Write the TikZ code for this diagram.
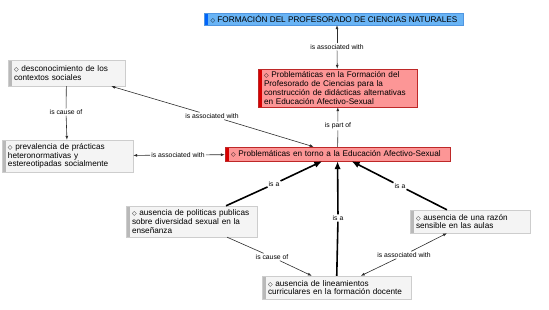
\documentclass[tikz,border=0pt]{standalone}
\usepackage{fontspec}
\setmainfont{Liberation Sans}
\newfontfamily\diafont{DejaVu Sans}
\usetikzlibrary{arrows.meta}
\definecolor{cgrayfill}{RGB}{244,244,244}
\definecolor{cgrayline}{RGB}{205,205,205}
\definecolor{cgraybar}{RGB}{185,185,185}
\definecolor{credfill}{RGB}{252,150,150}
\definecolor{credline}{RGB}{190,40,40}
\definecolor{credbar}{RGB}{215,0,0}
\definecolor{cbluefill}{RGB}{105,180,245}
\definecolor{cblueline}{RGB}{80,150,225}
\definecolor{cbluebar}{RGB}{0,100,250}
\definecolor{linkgray}{RGB}{45,45,45}
\newcommand\cmapdia{{\diafont\fontsize{6}{6}\selectfont ◇}}

\begin{document}
\begin{tikzpicture}[x=1pt,y=-1pt,
  every node/.style={font=\fontsize{8.2}{8.8}\selectfont},
  box/.style={align=left,inner xsep=6pt,inner ysep=2pt,
    path picture={\fill[#1] (path picture bounding box.north west)
      rectangle ([xshift=3.5pt]path picture bounding box.south west);}},
  concept/.style={box=cgraybar,draw=cgrayline,fill=cgrayfill},
  redconcept/.style={box=credbar,draw=credline,fill=credfill},
  blueconcept/.style={box=cbluebar,draw=cblueline,fill=cbluefill},
  phrase/.style={fill=white,inner sep=1pt,font=\fontsize{6.8}{7}\selectfont},
  line/.style={draw=linkgray,line width=0.6pt},
  link/.style={line,-{Latex[length=4pt,width=3pt]}},
  linkback/.style={line,{Latex[length=4pt,width=3pt]}-},
  isaline/.style={draw=black,line width=1.6pt},
  isa/.style={isaline,-{Latex[length=8pt,width=6.5pt]}}]

\useasboundingbox (0,0) rectangle (549,310);

% --- concepts
\node[blueconcept,minimum width=248pt,minimum height=12pt] (form) at (334,19)
  {\cmapdia\ FORMACIÓN DEL PROFESORADO DE CIENCIAS NATURALES};
\node[redconcept,text width=147pt,minimum height=38pt] (probform) at (337.5,88)
  {\cmapdia\ Problemáticas en la Formación del\\ Profesorado de Ciencias para la\\
   construcción de didácticas alternativas\\ en Educación Afectivo-Sexual};
\node[redconcept,text width=213pt,minimum height=14pt] (probeas) at (337.5,154)
  {\cmapdia\ Problemáticas en torno a la Educación Afectivo-Sexual};
\node[concept,text width=105pt,minimum height=26pt] (desc) at (66.5,73)
  {\cmapdia\ desconocimiento de los\\ contextos sociales};
\node[concept,text width=119pt,minimum height=32pt] (prev) at (67.5,156)
  {\cmapdia\ prevalencia de prácticas\\ heteronormativas y\\ estereotipadas socialmente};
\node[concept,text width=119pt,minimum height=31pt] (polit) at (191.5,221.5)
  {\cmapdia\ ausencia de politicas publicas\\ sobre diversidad sexual en la\\ enseñanza};
\node[concept,text width=108pt,minimum height=23pt] (razon) at (470,221.5)
  {\cmapdia\ ausencia de una razón\\ sensible en las aulas};
\node[concept,text width=137pt,minimum height=23pt] (lineam) at (336.5,287.5)
  {\cmapdia\ ausencia de lineamientos\\ curriculares en la formación docente};

% --- linking phrases
\node[phrase] (assoc1) at (337,47) {is associated with};
\node[phrase] (partof) at (338,126) {is part of};
\node[phrase] (assoc2) at (212,116) {is associated with};
\node[phrase] (cause1) at (66,112) {is cause of};
\node[phrase] (assoc3) at (178,155) {is associated with};
\node[phrase] (isa1) at (274,184) {is a};
\node[phrase] (isa2) at (338,218) {is a};
\node[phrase] (isa3) at (400,186) {is a};
\node[phrase] (cause2) at (272,257) {is cause of};
\node[phrase] (assoc4) at (404,255) {is associated with};

% --- links
\draw[link] (assoc1) -- (assoc1 |- form.south);
\draw[linkback] (probform) -- (assoc1);
\draw[line] (probeas) -- (partof);
\draw[link] (partof) -- (probform);
\draw[linkback] (desc) -- (assoc2);
\draw[link] (assoc2) -- (probeas);
\draw[line] (desc) -- (cause1);
\draw[link] (cause1) -- (prev);
\draw[linkback] (prev) -- (assoc3);
\draw[link] (assoc3) -- (probeas);
\draw[isaline] (polit) -- (isa1);
\draw[isa] (isa1) -- (probeas);
\draw[isaline] (lineam) -- (isa2);
\draw[isa] (isa2) -- (probeas);
\draw[isaline] (razon) -- (isa3);
\draw[isa] (isa3) -- (probeas);
\draw[line] (polit) -- (cause2);
\draw[link] (cause2) -- (lineam);
\draw[linkback] (razon) -- (assoc4);
\draw[link] (assoc4) -- (lineam);
\end{tikzpicture}
\end{document}
